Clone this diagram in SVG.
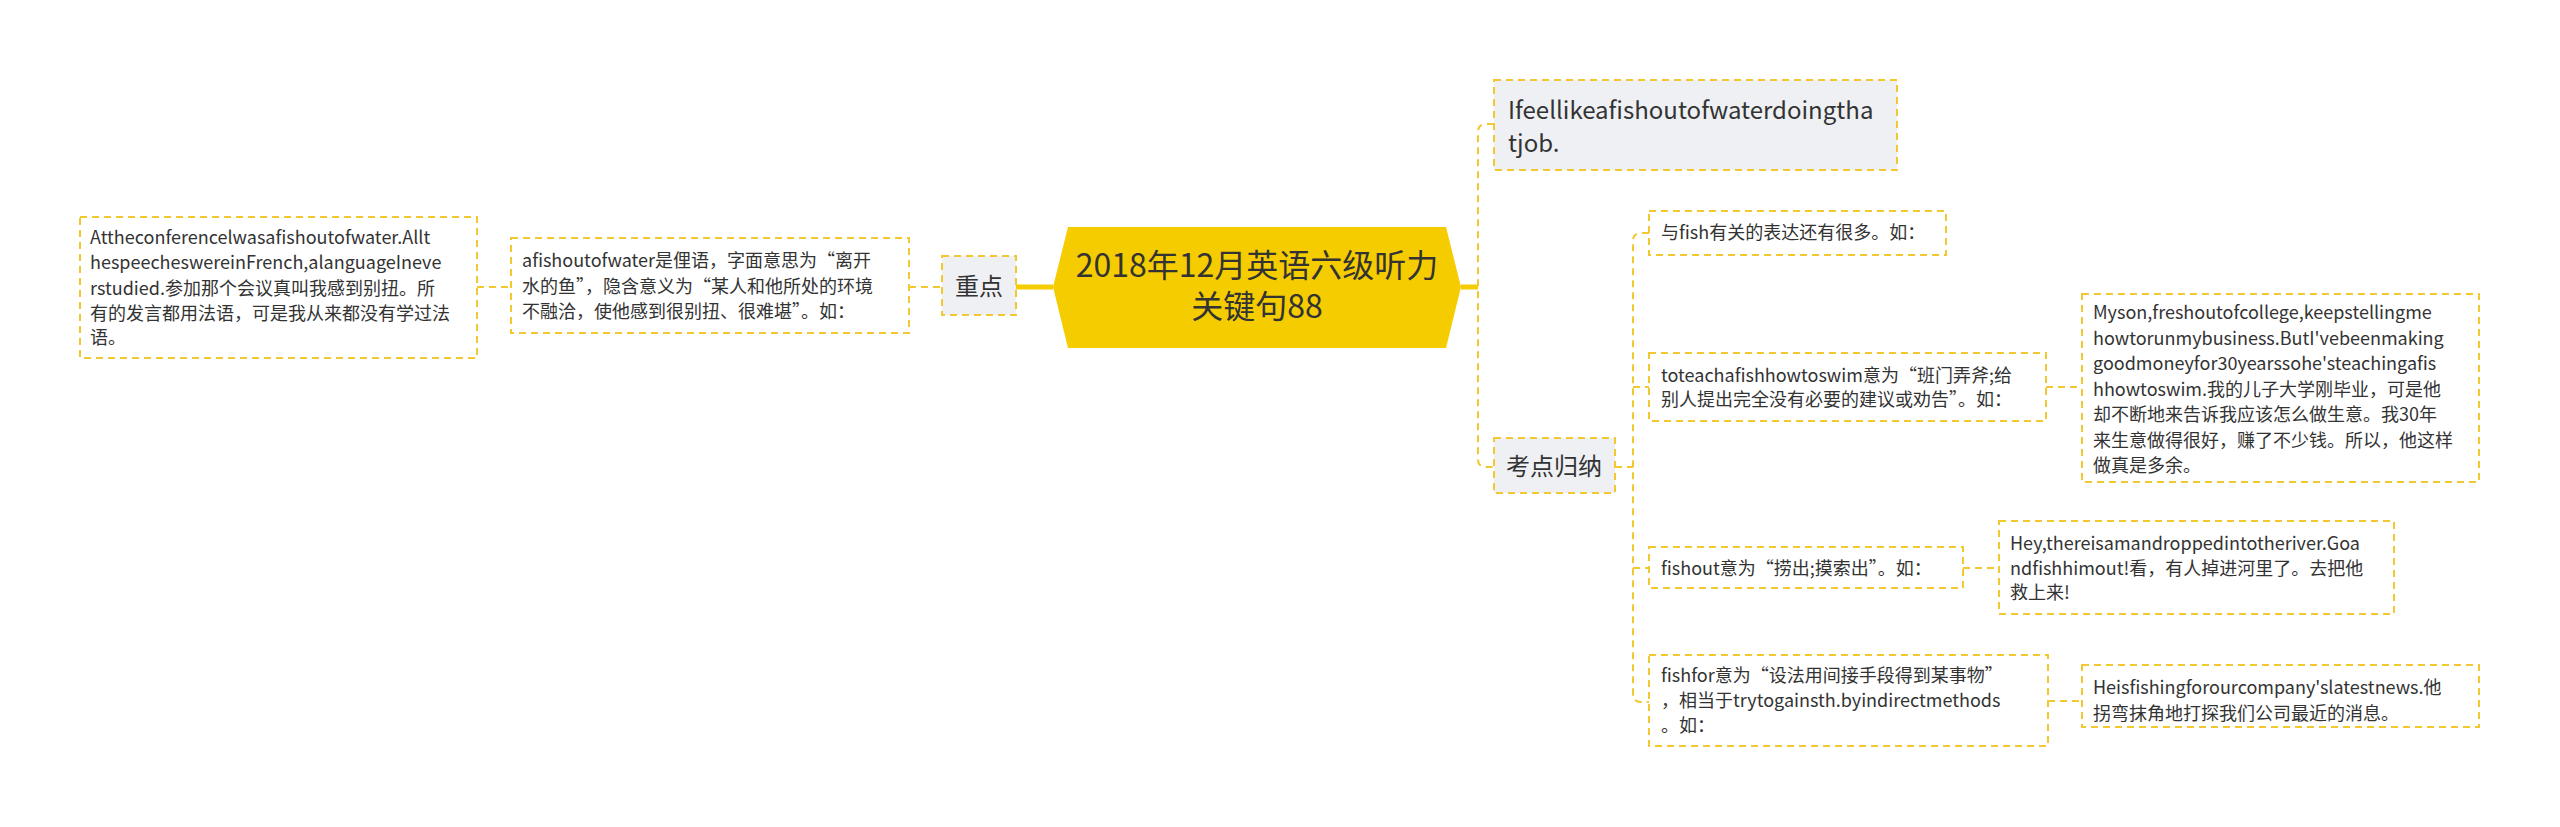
<svg xmlns="http://www.w3.org/2000/svg" width="2560" height="827" viewBox="0 0 2560 827">
<style>
text{font-family:"Noto Sans CJK SC","Noto Sans",sans-serif;fill:#333}
.n{fill:#fff;stroke:#f2c830;stroke-width:2;stroke-dasharray:7 5}
.g{fill:#eef0f3;stroke:#f2c830;stroke-width:2;stroke-dasharray:7 5}
.s{font-size:18px}
.m{font-size:24px}
.c{fill:none;stroke:#f2c830;stroke-width:2;stroke-dasharray:7 5}
</style>
<rect width="2560" height="827" fill="#fff"/>
<g id="connectors">
<path d="M1016 287H1053" stroke="#f5cc00" stroke-width="5" fill="none"/>
<path d="M1461 287H1478" stroke="#f5cc00" stroke-width="5" fill="none"/>
<path class="c" d="M909 287H942"/>
<path class="c" d="M477 287H511"/>
<path class="c" d="M1494 124H1486Q1478 124 1478 132V459Q1478 467 1486 467H1494"/>
<path class="c" d="M1615 467H1633"/>
<path class="c" d="M1649 233H1641Q1633 233 1633 241V694Q1633 702 1641 702H1649"/>
<path class="c" d="M1633 387H1649"/>
<path class="c" d="M1633 568H1649"/>
<path class="c" d="M2046 387H2082"/>
<path class="c" d="M1963 568H1999"/>
<path class="c" d="M2048 701H2082"/>
</g>
<g id="root">
<polygon points="1053,287 1068,227 1446,227 1461,287 1446,348 1068,348" fill="#f5cc00"/>
<text x="1257" y="277" font-size="32" text-anchor="middle">2018年12月英语六级听力</text>
<text x="1257" y="318" font-size="32" text-anchor="middle">关键句88</text>
</g>
<g id="zhongdian"><rect class="g" x="942" y="256" width="74" height="59"/><text class="m" x="979" y="295" text-anchor="middle">重点</text></g>
<g id="afish"><rect class="n" x="511" y="238" width="398" height="95"/>
<text class="s" x="522" y="267">afishoutofwater是俚语，字面意思为“离开</text>
<text class="s" x="522" y="293">水的鱼”，隐含意义为“某人和他所处的环境</text>
<text class="s" x="522" y="318">不融洽，使他感到很别扭、很难堪”。如：</text></g>
<g id="atthe"><rect class="n" x="80" y="217" width="397" height="141"/>
<text class="s" x="90" y="244">Attheconferencelwasafishoutofwater.Allt</text>
<text class="s" x="90" y="269">hespeecheswereinFrench,alanguageIneve</text>
<text class="s" x="90" y="295">rstudied.参加那个会议真叫我感到别扭。所</text>
<text class="s" x="90" y="320">有的发言都用法语，可是我从来都没有学过法</text>
<text class="s" x="90" y="344">语。</text></g>
<g id="ifeel"><rect class="g" x="1494" y="80" width="403" height="90"/>
<text class="m" x="1508" y="119">Ifeellikeafishoutofwaterdoingtha</text>
<text class="m" x="1508" y="152">tjob.</text></g>
<g id="kaodian"><rect class="g" x="1494" y="438" width="121" height="55"/><text class="m" x="1554" y="475" text-anchor="middle">考点归纳</text></g>
<g id="yufish"><rect class="n" x="1649" y="211" width="297" height="44"/><text class="s" x="1661" y="239">与fish有关的表达还有很多。如：</text></g>
<g id="toteach"><rect class="n" x="1649" y="353" width="397" height="68"/>
<text class="s" x="1661" y="382">toteachafishhowtoswim意为“班门弄斧;给</text>
<text class="s" x="1661" y="406">别人提出完全没有必要的建议或劝告”。如：</text></g>
<g id="myson"><rect class="n" x="2082" y="294" width="397" height="188"/>
<text class="s" x="2093" y="319">Myson,freshoutofcollege,keepstellingme</text>
<text class="s" x="2093" y="345">howtorunmybusiness.ButI'vebeenmaking</text>
<text class="s" x="2093" y="370">goodmoneyfor30yearssohe'steachingafis</text>
<text class="s" x="2093" y="396">hhowtoswim.我的儿子大学刚毕业，可是他</text>
<text class="s" x="2093" y="421">却不断地来告诉我应该怎么做生意。我30年</text>
<text class="s" x="2093" y="447">来生意做得很好，赚了不少钱。所以，他这样</text>
<text class="s" x="2093" y="472">做真是多余。</text></g>
<g id="fishout"><rect class="n" x="1649" y="547" width="314" height="41"/><text class="s" x="1661" y="575">fishout意为“捞出;摸索出”。如：</text></g>
<g id="hey"><rect class="n" x="1999" y="521" width="395" height="93"/>
<text class="s" x="2010" y="550">Hey,thereisamandroppedintotheriver.Goa</text>
<text class="s" x="2010" y="575">ndfishhimout!看，有人掉进河里了。去把他</text>
<text class="s" x="2010" y="599">救上来!</text></g>
<g id="fishfor"><rect class="n" x="1649" y="655" width="399" height="91"/>
<text class="s" x="1661" y="682">fishfor意为“设法用间接手段得到某事物”</text>
<text class="s" x="1661" y="707">，相当于trytogainsth.byindirectmethods</text>
<text class="s" x="1661" y="732">。如：</text></g>
<g id="heis"><rect class="n" x="2082" y="665" width="397" height="62"/>
<text class="s" x="2093" y="694">Heisfishingforourcompany'slatestnews.他</text>
<text class="s" x="2093" y="720">拐弯抹角地打探我们公司最近的消息。</text></g>
</svg>
